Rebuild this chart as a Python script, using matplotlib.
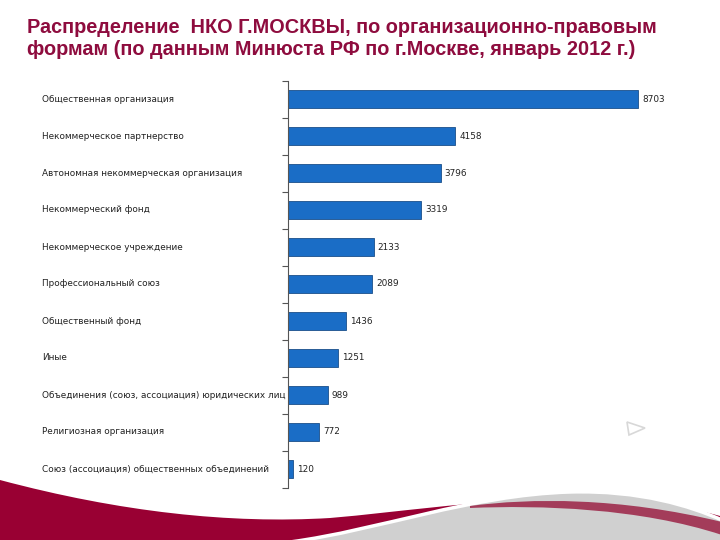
import numpy as np
import matplotlib
matplotlib.use("Agg")
import matplotlib.pyplot as plt
from matplotlib.patches import Polygon, PathPatch
from matplotlib.path import Path

# Data (top to bottom)
categories = [
    "Общественная организация",
    "Некоммерческое партнерство",
    "Автономная некоммерческая организация",
    "Некоммерческий фонд",
    "Некоммерческое учреждение",
    "Профессиональный союз",
    "Общественный фонд",
    "Иные",
    "Объединения (союз, ассоциация) юридических лиц",
    "Религиозная организация",
    "Союз (ассоциация) общественных объединений",
]
counts = [8703, 4158, 3796, 3319, 2133, 2089, 1436, 1251, 989, 772, 120]

title_line1 = "Распределение  НКО Г.МОСКВЫ, по организационно-правовым"
title_line2 = "формам (по данным Минюста РФ по г.Москве, январь 2012 г.)"

W, H = 720, 540
fig = plt.figure(figsize=(7.2, 5.4), dpi=100)
fig.patch.set_facecolor("white")


def curve_patch(ax, verts, codes, **kw):
    ax.add_patch(PathPatch(Path(verts, codes), **kw))


M, C, L, Z = Path.MOVETO, Path.CURVE4, Path.LINETO, Path.CLOSEPOLY

# decorative swoosh at the bottom, drawn in pixel coords on a background axes
bg = fig.add_axes([0, 0, 1, 1], zorder=0)
bg.set_xlim(0, W)
bg.set_ylim(H, 0)
bg.axis("off")

red_v = [(0, 480), (120, 512), (230, 524), (330, 518),
         (400, 512), (460, 502), (560, 498),
         (630, 496), (680, 505), (720, 516),
         (720, 540), (0, 540), (0, 480)]
red_c = [M, C, C, C, C, C, C, C, C, C, L, L, Z]
curve_patch(bg, red_v, red_c, fc="#990033", ec="none")

grey_v = [(290, 542), (380, 530), (470, 495), (570, 492),
          (640, 490), (690, 506), (722, 520),
          (722, 542), (290, 542)]
grey_c = [M, C, C, C, C, C, C, L, Z]
curve_patch(bg, grey_v, grey_c, fc="#d0d0d0", ec="white", lw=2.5)

rosy_v = [(470, 506), (530, 498), (620, 497), (722, 522),
          (722, 535), (640, 508), (540, 505), (470, 508), (470, 506)]
rosy_c = [M, C, C, C, L, C, C, C, Z]
curve_patch(bg, rosy_v, rosy_c, fc="#a33c5a", ec="none")

# small faint triangle glyph
bg.add_patch(Polygon([(627, 422), (645, 428), (629, 435)], closed=True,
                     fc="white", ec="#d8d8d8", lw=1.2))

# title
title_color = "#8e0c3e"
fig.text(27 / W, 1 - 33 / H, title_line1, color=title_color, fontsize=14.3,
         fontweight="bold", family=["Liberation Sans", "DejaVu Sans"], va="baseline")
fig.text(27 / W, 1 - 55 / H, title_line2, color=title_color, fontsize=14.3,
         fontweight="bold", family=["Liberation Sans", "DejaVu Sans"], va="baseline")

# bar chart
ax = fig.add_axes([288 / W, 1 - 487.5 / H, 402 / W, 407 / H], zorder=1)
ax.patch.set_alpha(0)
y = np.arange(len(categories))
ax.barh(y, counts, height=0.47, color="#1a6dc6", edgecolor="#1a4f8a", linewidth=0.6)
ax.set_xlim(0, 10000)
ax.set_ylim(len(categories) - 0.5, -0.5)

for s in ["top", "right", "bottom"]:
    ax.spines[s].set_visible(False)
ax.spines["left"].set_color("#555555")
ax.spines["left"].set_linewidth(0.8)
ax.set_xticks([])
ax.set_yticks(np.arange(-0.5, len(categories), 1.0))
ax.set_yticklabels([])
ax.tick_params(axis="y", length=4, width=0.8, color="#555555", direction="out")

# category labels, left aligned at fixed x
trans = matplotlib.transforms.blended_transform_factory(fig.transFigure, ax.transData)
for yi, name in zip(y, categories):
    ax.text(42 / W, yi, name, transform=trans, ha="left", va="center",
            fontsize=6.4, color="#222222")

for yi, v in zip(y, counts):
    ax.text(v + 100, yi, str(v), ha="left", va="center", fontsize=6.4, color="#222222")

fig.savefig("out.png", dpi=100)
